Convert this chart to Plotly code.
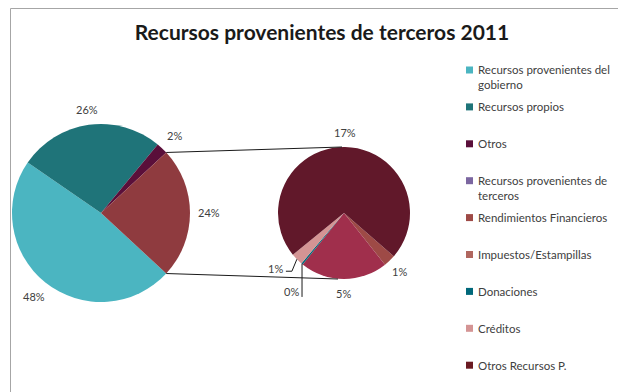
import math
import plotly.graph_objects as go

W, H = 618, 392

# Main pie: shares of total (percent)
main_labels = ["Recursos provenientes del gobierno", "Recursos propios", "Otros",
               "Recursos provenientes de terceros"]
main_values = [47.7, 26.4, 2.1, 23.8]
main_colors = ["#4BB5C1", "#1F7479", "#5A0F3A", "#8F3B3F"]

# Breakdown of "Recursos provenientes de terceros" (percent of total)
sub_labels = ["Rendimientos Financieros", "Impuestos/Estampillas", "Donaciones",
              "Créditos", "Otros Recursos P."]
sub_values = [0.7, 5.1, 0.1, 0.7, 17.2]
sub_colors = ["#9E4A46", "#A02F4C", "#00687A", "#D49494", "#61182A"]

# Legend entries and their swatch colours
legend_labels = ["Recursos provenientes del<br>gobierno", "Recursos propios", "Otros",
                 "Recursos provenientes de<br>terceros", "Rendimientos Financieros",
                 "Impuestos/Estampillas", "Donaciones", "Créditos", "Otros Recursos P."]
legend_colors = ["#4BB5C1", "#1F7479", "#5A0F3A", "#7B66A0", "#9E4A46",
                 "#B0675F", "#00687A", "#D49494", "#6A1A22"]

FONT = "Lato"
TXT = "#404040"
LINE = "#1a1a1a"


def px_x(x):
    return x / W


def px_y(y):
    return 1 - y / H


def mid_angles(values, start_deg):
    """Mid angle (deg, maths convention) of each slice drawn clockwise from start_deg."""
    tot = sum(values)
    out, acc = [], start_deg
    for v in values:
        span = v / tot * 360.0
        out.append(acc - span / 2)
        acc -= span
    return out


# pie geometry in pixels (centre, radius)
mcx, mcy, mr = 101, 213, 89
scx, scy, sr = 344, 213, 66

total = sum(main_values)
half_angle = main_values[-1] / total * 180.0  # half of the exploded slice, degrees
main_start = -half_angle
sub_start = -41.0

fig = go.Figure()

fig.add_trace(go.Pie(
    labels=main_labels, values=main_values, sort=False, direction="clockwise",
    rotation=90 - main_start,
    marker=dict(colors=main_colors, line=dict(width=0)),
    textinfo="none",
    domain=dict(x=[px_x(mcx - mr), px_x(mcx + mr)], y=[px_y(mcy + mr), px_y(mcy - mr)]),
    showlegend=False, hoverinfo="label+value",
))

fig.add_trace(go.Pie(
    labels=sub_labels, values=sub_values, sort=False, direction="clockwise",
    rotation=90 - sub_start,
    marker=dict(colors=sub_colors, line=dict(width=0)),
    textinfo="none",
    domain=dict(x=[px_x(scx - sr), px_x(scx + sr)], y=[px_y(scy + sr), px_y(scy - sr)]),
    showlegend=False, hoverinfo="label+value",
))

annotations = []
shapes = []
label_font = dict(family=FONT, size=11, color=TXT)


def label(xp, yp, text):
    annotations.append(dict(
        x=px_x(xp), y=px_y(yp), xref="paper", yref="paper", text=text,
        showarrow=False, xanchor="center", yanchor="middle", font=label_font))


# percentage labels around the main pie
for v, m in zip(main_values, mid_angles(main_values, main_start)):
    rad = math.radians(m)
    d = mr + 15 + 4 * abs(math.cos(rad))
    label(mcx + d * math.cos(rad), mcy - d * math.sin(rad), f"{v:.0f}%")

# percentage labels around the secondary pie; the two thin slices get leader lines
for lab, v, m in zip(sub_labels, sub_values, mid_angles(sub_values, sub_start)):
    rad = math.radians(m)
    ex, ey = scx + sr * math.cos(rad), scy - sr * math.sin(rad)
    if lab == "Donaciones":
        shapes.append(dict(type="path", xref="paper", yref="paper",
                           path=f"M {px_x(ex)} {px_y(ey)} L {px_x(ex)} {px_y(ey + 33)}",
                           line=dict(color=LINE, width=1)))
        label(ex - 11, ey + 28, f"{v:.0f}%")
    elif lab == "Créditos":
        shapes.append(dict(type="path", xref="paper", yref="paper",
                           path=(f"M {px_x(ex)} {px_y(ey)} L {px_x(ex - 5)} {px_y(ey + 12)} "
                                 f"L {px_x(ex - 11)} {px_y(ey + 12)}"),
                           line=dict(color=LINE, width=1)))
        label(ex - 21, ey + 9, f"{v:.0f}%")
    else:
        d = sr + 15
        label(scx + d * math.cos(rad), scy - d * math.sin(rad), f"{v:.0f}%")

# legend: swatch + label rows
leg_x, leg_y0, leg_pitch, sw = 466, 70, 36.9, 7
for i, (lab, col) in enumerate(zip(legend_labels, legend_colors)):
    yc = leg_y0 + i * leg_pitch
    shapes.append(dict(type="rect", xref="paper", yref="paper",
                       x0=px_x(leg_x), x1=px_x(leg_x + sw),
                       y0=px_y(yc + sw / 2), y1=px_y(yc - sw / 2),
                       fillcolor=col, line=dict(width=0)))
    annotations.append(dict(
        x=px_x(leg_x + sw + 3), y=px_y(yc - 8.5), xref="paper", yref="paper",
        text=lab, showarrow=False, xanchor="left", yanchor="top", align="left",
        font=dict(family=FONT, size=11.5, color=TXT)))

# connector lines from the exploded slice to the secondary pie
a = math.radians(half_angle)
top_main = (mcx + mr * math.cos(a), mcy - mr * math.sin(a))
bot_main = (mcx + mr * math.cos(a), mcy + mr * math.sin(a))
shapes += [
    dict(type="line", xref="paper", yref="paper",
         x0=px_x(top_main[0]), y0=px_y(top_main[1]), x1=px_x(scx - 2), y1=px_y(scy - sr),
         line=dict(color=LINE, width=1)),
    dict(type="line", xref="paper", yref="paper",
         x0=px_x(bot_main[0]), y0=px_y(bot_main[1]), x1=px_x(scx - 6), y1=px_y(scy + sr),
         line=dict(color=LINE, width=1)),
    # chart frame (left and top edges)
    dict(type="line", xref="paper", yref="paper",
         x0=px_x(10.5), y0=px_y(8.5), x1=px_x(10.5), y1=0,
         line=dict(color="#A6A6A6", width=1)),
    dict(type="line", xref="paper", yref="paper",
         x0=px_x(10.5), y0=px_y(8.5), x1=1, y1=px_y(8.5),
         line=dict(color="#A6A6A6", width=1)),
]

fig.update_layout(
    width=W, height=H,
    margin=dict(l=0, r=0, t=0, b=0),
    paper_bgcolor="white", plot_bgcolor="white",
    font=dict(family=FONT, color=TXT),
    title=dict(text="Recursos provenientes de terceros 2011",
               font=dict(family=FONT, size=21, color="#1a1a1a", weight="bold"),
               x=px_x(322), xanchor="center", y=px_y(33), yanchor="middle"),
    showlegend=False,
    shapes=shapes,
    annotations=annotations,
)

fig.write_html("out.html")
